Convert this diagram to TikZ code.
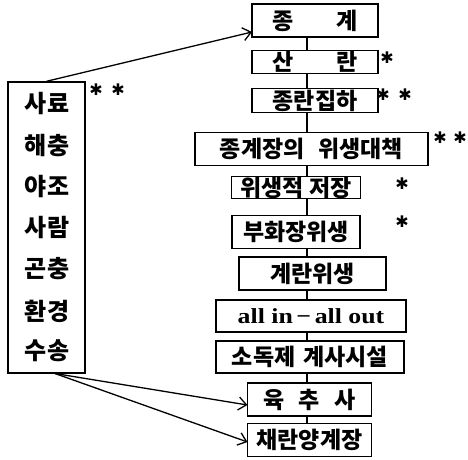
\documentclass[tikz,border=0pt]{standalone}
\usepackage{fontspec}
\newfontfamily\kr{Noto Sans CJK KR}
\newfontfamily\symf{DejaVu Sans}
\newfontfamily\lmbx{Liberation Serif}[FakeStretch=1.2]
\usetikzlibrary{arrows.meta}
\begin{document}
\begin{tikzpicture}[x=1pt,y=-1pt,
  box/.style={draw, line width=1.4pt, inner sep=0pt, font=\kr\bfseries\fontsize{23}{23}\selectfont},
  lbl/.style={inner sep=0pt, font=\kr\bfseries\fontsize{24}{24}\selectfont},
  ast/.style={inner sep=0pt, font=\symf\bfseries\fontsize{16}{16}\selectfont},
  link/.style={line width=1.3pt},
  arr/.style={line width=1.3pt, -{Straight Barb[length=8pt,width=13pt,line width=1.3pt]}}]
\useasboundingbox (0,0) rectangle (468,459);
% right column
\node[box, minimum width=126pt, minimum height=33pt] (b1) at (315,20.5) {종\hspace{42pt}계};
\node[box, minimum width=126pt, minimum height=23pt] (b2) at (315,62) {산\hspace{42pt}란};
\node[box, minimum width=126pt, minimum height=24pt] (b3) at (315,100.5) {종란집하};
\node[box, minimum width=233pt, minimum height=33pt] (b4) at (311.5,149) {종계장의\hspace{14pt}위생대책};
\node[box, minimum width=129pt, minimum height=21pt] (b5) at (296,187.5) {위생적\hspace{6pt}저장};
\node[box, minimum width=128pt, minimum height=33pt] (b6) at (296,232) {부화장위생};
\node[box, minimum width=147pt, minimum height=33pt] (b7) at (312.5,273.5) {계란위생};
\node[box, minimum width=190pt, minimum height=32pt, font=\lmbx\bfseries\fontsize{21.5}{21.5}\selectfont] (b8) at (311,316) {all in\,−\,all out};
\node[box, minimum width=188pt, minimum height=32pt] (b9) at (310,357) {소독제\hspace{8pt}계사시설};
\node[box, minimum width=124pt, minimum height=33pt] (b10) at (309.5,399.5) {육\hspace{14pt}추\hspace{14pt}사};
\node[box, minimum width=124pt, minimum height=33pt] (b11) at (309.5,440) {채란양계장};
% spine links
\coordinate (sp) at (307,0);
\foreach \a/\b in {b1/b2,b2/b3,b3/b4,b4/b5,b5/b6,b6/b7,b7/b8,b8/b9,b9/b10,b10/b11}
  \draw[link] (\a.south -| sp) -- (\b.north -| sp);
% left box
\node[draw, line width=1.4pt, minimum width=77pt, minimum height=291pt, inner sep=0pt] (L) at (46.5,227.5) {};
\node[lbl] (l1) at (47,104) {사료};
\node[lbl] (l2) at (47,146) {해충};
\node[lbl] (l3) at (47,187) {야조};
\node[lbl] (l4) at (47,228) {사람};
\node[lbl] (l5) at (47,269) {곤충};
\node[lbl] (l6) at (47,311) {환경};
\node[lbl] (l7) at (47,351) {수송};
% asterisks
\node[ast] (a1) at (96,90) {✱};
\node[ast] (a2) at (118,90) {✱};
\node[ast] (a3) at (387,58) {✱};
\node[ast] (a4) at (383,95) {✱};
\node[ast] (a5) at (405,95) {✱};
\node[ast] (a6) at (440,138) {✱};
\node[ast] (a7) at (460,138) {✱};
\node[ast] (a8) at (402,184) {✱};
\node[ast] (a9) at (402,222) {✱};
% arrows
\coordinate (s2) at (55,373.5);
\coordinate (t1) at (252,32);
\coordinate (t2) at (247.5,405);
\coordinate (t3) at (247.5,442);
\draw[arr] (L.north) -- (t1);
\draw[arr] (s2) -- (t2);
\draw[arr] (s2) -- (t3);
\end{tikzpicture}
\end{document}
